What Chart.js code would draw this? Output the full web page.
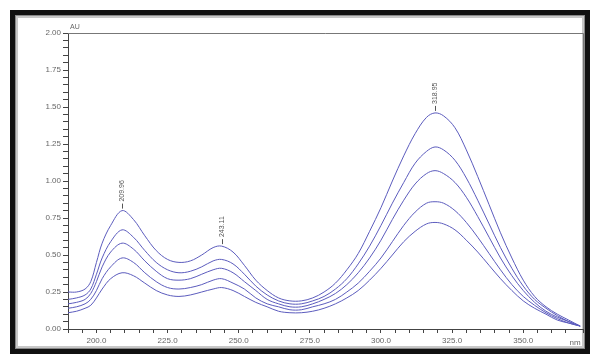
<!DOCTYPE html>
<html>
<head>
<meta charset="utf-8">
<script src="https://cdn.jsdelivr.net/npm/chart.js@4.4.1/dist/chart.umd.min.js"></script>
<style>
  html, body { margin: 0; padding: 0; background: #fff; }
  canvas { display: block; }
</style>
</head>
<body>
<canvas id="spectra" width="590" height="354"></canvas>
<script>
// wavelengths (nm) and absorbance (AU) of the five overlaid scans
const wavelengths = [190, 193, 196, 198, 200, 202, 205, 209, 213, 217, 221, 225, 229, 233, 237, 241, 244, 248, 252, 256, 260, 264, 268, 272, 276, 280, 284, 288, 292, 296, 300, 304, 308, 312, 316, 319, 322, 326, 330, 334, 338, 342, 346, 350, 354, 358, 362, 366, 370];
const scan1 = [0.25, 0.25, 0.27, 0.32, 0.45, 0.58, 0.70, 0.80, 0.74, 0.63, 0.53, 0.47, 0.45, 0.46, 0.50, 0.55, 0.56, 0.52, 0.43, 0.33, 0.26, 0.21, 0.19, 0.19, 0.21, 0.25, 0.31, 0.40, 0.51, 0.66, 0.82, 1.00, 1.17, 1.32, 1.43, 1.46, 1.44, 1.36, 1.21, 1.03, 0.84, 0.65, 0.48, 0.33, 0.22, 0.15, 0.10, 0.06, 0.02];
const scan2 = [0.20, 0.21, 0.23, 0.27, 0.37, 0.48, 0.59, 0.67, 0.62, 0.53, 0.45, 0.40, 0.38, 0.39, 0.42, 0.46, 0.47, 0.44, 0.37, 0.29, 0.23, 0.19, 0.17, 0.17, 0.19, 0.22, 0.27, 0.34, 0.44, 0.56, 0.70, 0.85, 0.99, 1.12, 1.20, 1.23, 1.21, 1.14, 1.02, 0.87, 0.71, 0.55, 0.41, 0.29, 0.20, 0.14, 0.09, 0.05, 0.02];
const scan3 = [0.17, 0.18, 0.20, 0.24, 0.32, 0.42, 0.52, 0.58, 0.54, 0.46, 0.39, 0.34, 0.33, 0.34, 0.37, 0.40, 0.41, 0.38, 0.32, 0.26, 0.20, 0.17, 0.15, 0.15, 0.17, 0.20, 0.24, 0.30, 0.38, 0.48, 0.60, 0.74, 0.87, 0.98, 1.05, 1.07, 1.05, 0.99, 0.89, 0.76, 0.62, 0.48, 0.36, 0.26, 0.18, 0.12, 0.08, 0.05, 0.02];
const scan4 = [0.14, 0.15, 0.17, 0.20, 0.26, 0.34, 0.42, 0.48, 0.45, 0.38, 0.32, 0.28, 0.27, 0.28, 0.30, 0.33, 0.34, 0.31, 0.27, 0.21, 0.17, 0.15, 0.13, 0.13, 0.15, 0.17, 0.20, 0.25, 0.31, 0.39, 0.48, 0.59, 0.70, 0.79, 0.85, 0.86, 0.85, 0.80, 0.72, 0.62, 0.51, 0.40, 0.30, 0.22, 0.16, 0.11, 0.07, 0.04, 0.02];
const scan5 = [0.11, 0.12, 0.14, 0.16, 0.21, 0.27, 0.34, 0.38, 0.36, 0.31, 0.26, 0.23, 0.22, 0.23, 0.25, 0.27, 0.28, 0.26, 0.22, 0.18, 0.15, 0.12, 0.11, 0.11, 0.12, 0.14, 0.17, 0.21, 0.26, 0.33, 0.41, 0.50, 0.59, 0.66, 0.71, 0.72, 0.71, 0.67, 0.60, 0.52, 0.43, 0.34, 0.26, 0.19, 0.14, 0.10, 0.06, 0.04, 0.02];

// peak annotations on the top scan
const peakWavelengths = [209, 244, 319];
const peakLabels = ['209.96', '243.11', '318.95'];

const scans = [scan1, scan2, scan3, scan4, scan5];
const lineColor = 'rgb(92, 92, 190)';
const textColor = '#666';

// white page, heavy black frame, light inner bevel, box round plot
const framePlugin = {
  id: 'frame',
  beforeDraw(chart) {
    const ctx = chart.ctx;
    ctx.save();
    ctx.fillStyle = '#fff';
    ctx.fillRect(0, 0, chart.width, chart.height);
    ctx.strokeStyle = '#111';
    ctx.lineWidth = 5;
    ctx.strokeRect(12.5, 12.5, 575, 339);
    ctx.strokeStyle = '#888';
    ctx.lineWidth = 1;
    ctx.strokeRect(15.5, 15.5, 569, 333);
    ctx.strokeStyle = '#c8c8c8';
    ctx.lineWidth = 2;
    ctx.strokeRect(17, 17, 566, 330);
    ctx.restore();
  },
  afterDraw(chart) {
    const ctx = chart.ctx;
    const a = chart.chartArea;
    ctx.save();
    ctx.strokeStyle = '#777';
    ctx.lineWidth = 1;
    ctx.beginPath();
    ctx.moveTo(a.left, Math.round(a.top) + 0.5);
    ctx.lineTo(Math.round(a.right) + 0.5, Math.round(a.top) + 0.5);
    ctx.lineTo(Math.round(a.right) + 0.5, a.bottom);
    ctx.stroke();

    ctx.fillStyle = textColor;
    ctx.font = '7px "Liberation Sans", Arial, sans-serif';
    ctx.textAlign = 'left';
    ctx.textBaseline = 'alphabetic';
    ctx.fillText('AU', a.left + 2, a.top - 4);
    ctx.textAlign = 'center';
    ctx.textBaseline = 'middle';
    ctx.font = '8px "Liberation Sans", Arial, sans-serif';
    ctx.fillText('nm', a.right - 8, a.bottom + 14);
    ctx.restore();
  }
};

const peakPlugin = {
  id: 'peaks',
  afterDatasetsDraw(chart) {
    const ctx = chart.ctx;
    const xs = chart.scales.x;
    const ys = chart.scales.y;
    ctx.save();
    ctx.strokeStyle = '#555';
    ctx.fillStyle = '#555';
    ctx.lineWidth = 1;
    ctx.font = '7px "Liberation Sans", Arial, sans-serif';
    peakWavelengths.forEach((wl, i) => {
      const idx = wavelengths.indexOf(wl);
      const px = Math.round(xs.getPixelForValue(wl)) + 0.5;
      const py = ys.getPixelForValue(scan1[idx]);
      ctx.beginPath();
      ctx.moveTo(px, py - 2);
      ctx.lineTo(px, py - 7);
      ctx.stroke();
      ctx.save();
      ctx.translate(px, py - 9);
      ctx.rotate(-Math.PI / 2);
      ctx.textAlign = 'left';
      ctx.textBaseline = 'middle';
      ctx.fillText(peakLabels[i], 0, 0);
      ctx.restore();
    });
    ctx.restore();
  }
};

new Chart(document.getElementById('spectra'), {
  type: 'line',
  data: {
    datasets: scans.map((s, k) => ({
      label: 'scan ' + (k + 1),
      data: s.map((v, i) => ({ x: wavelengths[i], y: v })),
      borderColor: lineColor,
      borderWidth: 1,
      pointRadius: 0,
      fill: false,
      tension: 0.35
    }))
  },
  options: {
    responsive: false,
    animation: false,
    layout: { padding: { left: 10, right: 7, top: 33, bottom: 7 } },
    plugins: {
      legend: { display: false },
      tooltip: { enabled: false }
    },
    scales: {
      x: {
        type: 'linear',
        min: 190,
        max: 371,
        border: { color: '#444' },
        grid: { drawOnChartArea: false, drawTicks: true, tickLength: 4, color: '#444' },
        ticks: {
          stepSize: 5,
          autoSkip: false,
          maxRotation: 0,
          padding: 3,
          color: textColor,
          font: { size: 8, family: '"Liberation Sans", Arial, sans-serif' },
          callback: v => (v % 25 === 0 ? v.toFixed(1) : '')
        },
        afterFit: s => { s.height = 18; }
      },
      y: {
        min: 0,
        max: 2,
        border: { color: '#444' },
        grid: { drawOnChartArea: false, drawTicks: true, tickLength: 5, color: '#444' },
        ticks: {
          stepSize: 0.05,
          autoSkip: false,
          padding: 2,
          color: textColor,
          font: { size: 8, family: '"Liberation Sans", Arial, sans-serif' },
          callback: v => {
            const q = v / 0.25;
            return Math.abs(q - Math.round(q)) < 1e-6 ? v.toFixed(2) : '';
          }
        },
        afterFit: s => { s.width = 58; }
      }
    }
  },
  plugins: [framePlugin, peakPlugin]
});
</script>
</body>
</html>
